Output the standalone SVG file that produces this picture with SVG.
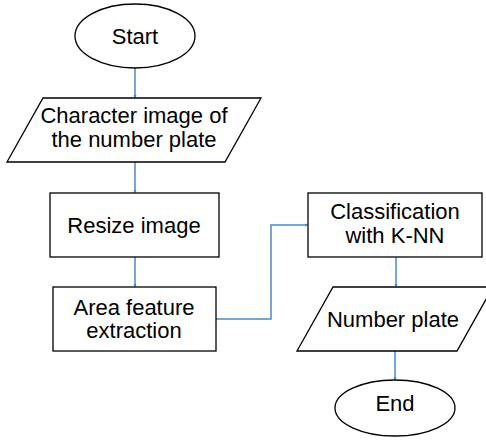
<svg xmlns="http://www.w3.org/2000/svg" width="486" height="445" viewBox="0 0 486 445">
<style>
.shape{fill:#fff;stroke:#000;stroke-width:1.3}
.t{font-family:"Liberation Sans",Arial,sans-serif;font-size:22px;fill:#000;text-anchor:middle}
.c{fill:none;stroke:#4a8ac4;stroke-width:1.5}
</style>
<defs>
<marker id="ah" markerWidth="4" markerHeight="4" refX="2" refY="2" orient="auto" markerUnits="userSpaceOnUse">
<path d="M0,0.5 L4,2 L0,3.5 Z" fill="#4a8ac4"/>
</marker>
</defs>
<rect width="486" height="445" fill="#fff"/>
<g id="connectors">
<path class="c" d="M135,68 V97" marker-end="url(#ah)"/>
<path class="c" d="M135,162 V192" marker-end="url(#ah)"/>
<path class="c" d="M135,257 V286" marker-end="url(#ah)"/>
<path class="c" d="M216,319 H271 V225 H307" marker-end="url(#ah)"/>
<path class="c" d="M396,257 V286" marker-end="url(#ah)"/>
<path class="c" d="M395,351 V379" marker-end="url(#ah)"/>
</g>
<g id="start">
<ellipse class="shape" cx="135" cy="36" rx="60" ry="32"/>
<text class="t" x="135" y="44">Start</text>
</g>
<g id="char-image">
<polygon class="shape" points="43,98 261,98 225,162 7,162"/>
<text class="t" x="134" y="123">Character image of</text>
<text class="t" x="134" y="147">the number plate</text>
</g>
<g id="resize">
<rect class="shape" x="50" y="193" width="169" height="64"/>
<text class="t" x="134" y="233">Resize image</text>
</g>
<g id="area">
<rect class="shape" x="53" y="287" width="163" height="64"/>
<text class="t" x="134" y="315">Area feature</text>
<text class="t" x="134" y="338">extraction</text>
</g>
<g id="classification">
<rect class="shape" x="308" y="193" width="174" height="64"/>
<text class="t" x="395" y="219">Classification</text>
<text class="t" x="395" y="243">with K-NN</text>
</g>
<g id="number-plate">
<polygon class="shape" points="333,287 493,287 457,351 297,351"/>
<text class="t" x="393" y="327">Number plate</text>
</g>
<g id="end">
<ellipse class="shape" cx="395" cy="408" rx="60" ry="28"/>
<text class="t" x="395" y="411">End</text>
</g>
</svg>
